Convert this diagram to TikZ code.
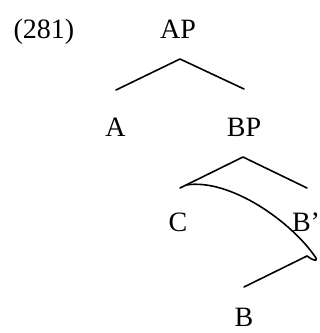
\documentclass[tikz,border=0pt]{standalone}
\usepackage{fontspec}
\setmainfont{Liberation Serif}
\begin{document}
\begin{tikzpicture}[x=1pt,y=-1pt,
  lbl/.style={anchor=base,inner sep=0pt,font=\fontsize{28}{30}\selectfont},
  branch/.style={line width=1.6pt,line join=round,line cap=round}]
\useasboundingbox (0,0) rectangle (320,333);
\node[lbl] (ex) at (44,38) {(281)};
\node[lbl] (AP) at (178,38) {AP};
\node[lbl] (A) at (115.5,136) {A};
\node[lbl] (BP) at (244,136) {BP};
\node[lbl] (C) at (178,231) {C};
\node[lbl] (Bb) at (306,231) {B'};
\node[lbl] (B) at (244,326) {B};
% tree branch points
\coordinate (APtop) at (180,59);
\coordinate (APl) at (116,90);
\coordinate (APr) at (244,89);
\coordinate (BPtop) at (243,157);
\coordinate (BPl) at (180,188);
\coordinate (BPr) at (307,188);
\coordinate (Btop) at (307,256);
\coordinate (Bbot) at (244,287);
\coordinate (cs) at (186,185);
\coordinate (ce) at (316,258);
\draw[branch] (APl) -- (APtop) -- (APr);
\draw[branch] (BPl) -- (BPtop) -- (BPr);
\draw[branch] (Bbot) -- (Btop);
\draw[branch] (cs) .. controls (230,178) and (292,222) .. (ce)
  .. controls (318,262) and (312,260) .. (Btop);
\end{tikzpicture}
\end{document}
